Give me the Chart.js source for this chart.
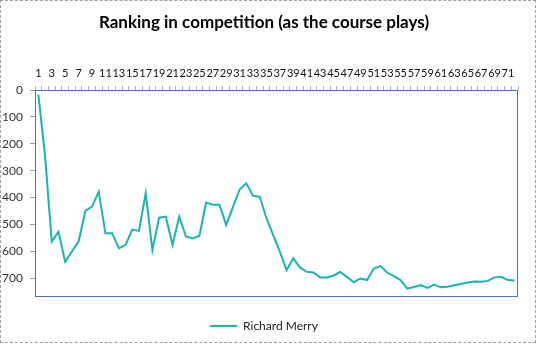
<!DOCTYPE html>
<html>
<head>
<meta charset="utf-8">
<script src="https://cdn.jsdelivr.net/npm/chart.js@4.4.1/dist/chart.umd.min.js"></script>
<style>
  html, body { margin: 0; padding: 0; background: #fff; }
  #wrap { position: relative; width: 539px; height: 348px; }
  #frame {
    position: absolute; left: 0; top: 0; width: 534px; height: 341px;
    border: 1px dashed #a0a0a0; pointer-events: none;
  }
</style>
</head>
<body>
<div id="wrap">
  <canvas id="chart"></canvas>
  <div id="frame"></div>
</div>
<script>
// holes as the course plays
const holes = [1, 2, 3, 4, 5, 6, 7, 8, 9, 10, 11, 12, 13, 14, 15, 16, 17, 18, 19, 20,
    21, 22, 23, 24, 25, 26, 27, 28, 29, 30, 31, 32, 33, 34, 35, 36, 37, 38, 39, 40,
    41, 42, 43, 44, 45, 46, 47, 48, 49, 50, 51, 52, 53, 54, 55, 56, 57, 58, 59, 60,
    61, 62, 63, 64, 65, 66, 67, 68, 69, 70, 71, 72];

// ranking of Richard Merry after each hole
const merryRank = [17, 245, 564, 527, 639, 601, 564, 450, 434, 378,
    533, 533, 589, 576, 519, 524, 384, 595, 475, 471,
    576, 471, 545, 552, 543, 419, 427, 427, 502, 436,
    370, 347, 394, 397, 477, 539, 601, 670, 626, 660,
    676, 679, 697, 697, 690, 677, 695, 715, 701, 707,
    664, 655, 679, 692, 707, 739, 733, 726, 736, 724,
    734, 732, 726, 722, 716, 712, 713, 710, 697, 695,
    707, 709];

const rankTicks = [0, 100, 200, 300, 400, 500, 600, 700];

const seriesName = "Richard Merry";
const titleText = "Ranking in competition (as the course plays)";

// blue frame round the plot area
const plotBorder = {
    id: "plotBorder",
    beforeDatasetsDraw(chart) {
        const { ctx, chartArea: a } = chart;
        ctx.save();
        ctx.strokeStyle = "#4f6fcf";
        ctx.lineWidth = 1;
        ctx.strokeRect(a.left + 0.5, a.top + 0.5, a.right - a.left - 1, a.bottom - a.top - 1);
        ctx.restore();
    }
};

new Chart(document.getElementById("chart"), {
    type: "line",
    data: {
        labels: holes,
        datasets: [{
            label: seriesName,
            data: merryRank,
            borderColor: "#1cb3b3",
            backgroundColor: "#1cb3b3",
            borderWidth: 2,
            pointRadius: 0,
            tension: 0
        }]
    },
    options: {
        responsive: true,
        maintainAspectRatio: false,
        animation: false,
        layout: { padding: { left: 0, right: 11, top: 0, bottom: 6 } },
        plugins: {
            title: {
                display: true,
                text: titleText,
                color: "#000",
                font: { family: "Lato", size: 17, weight: "bold", lineHeight: 1.2 },
                padding: { top: 12.6, bottom: 7 }
            },
            legend: {
                position: "bottom",
                labels: {
                    color: "#222",
                    font: { family: "Lato", size: 12 },
                    usePointStyle: true,
                    pointStyle: "line",
                    pointStyleWidth: 27,
                    padding: 23
                }
            },
            tooltip: { enabled: false }
        },
        scales: {
            x: {
                type: "category",
                position: "top",
                offset: true,
                grid: { offset: true, drawOnChartArea: false, tickLength: 4, color: "#b0b0b0" },
                border: { display: false },
                ticks: {
                    autoSkip: false,
                    maxRotation: 0,
                    padding: 6,
                    color: "#111",
                    font: { family: "Lato", size: 11 },
                    callback: (v, i) => (i % 2 === 0 ? holes[i] : "")
                },
                afterFit(scale) { scale.height = 50; }
            },
            y: {
                type: "linear",
                reverse: true,
                min: 0,
                max: 770,
                grid: { drawOnChartArea: false, tickLength: 5, color: "#a0a0a0" },
                border: { display: false },
                ticks: {
                    padding: 7,
                    color: "#333",
                    font: { family: "Lato", size: 12 }
                },
                afterBuildTicks(scale) { scale.ticks = rankTicks.map(v => ({ value: v })); },
                afterFit(scale) { scale.width = 35; }
            },
            // empty strip on the right of the plot
            yRight: {
                type: "linear",
                position: "right",
                grid: { display: false },
                border: { display: false },
                ticks: { display: false },
                afterFit(scale) { scale.width = 10; }
            }
        }
    },
    plugins: [plotBorder]
});
</script>
</body>
</html>
